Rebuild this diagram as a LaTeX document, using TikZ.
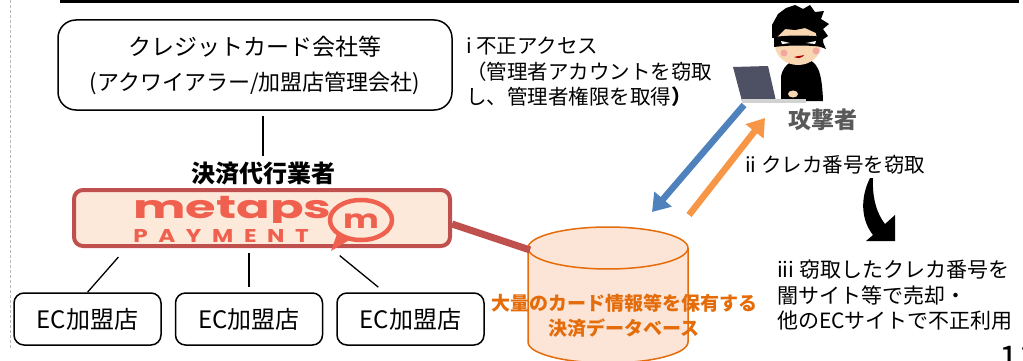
\documentclass[tikz,border=0pt]{standalone}
\usepackage{fontspec}
\setmainfont{Noto Sans CJK JP}
\newfontfamily\logofont{Poppins}
\usepackage{tikz}
\usepackage{xcolor}
\usetikzlibrary{arrows.meta, positioning, calc}

\definecolor{agentred}{HTML}{C0504D}
\definecolor{agentfill}{HTML}{FDE9D9}
\definecolor{logored}{HTML}{F0604F}
\definecolor{dborange}{HTML}{E46C0A}
\definecolor{dbfill}{HTML}{FCE4D6}
\definecolor{accessblue}{HTML}{4F81BD}
\definecolor{stealorange}{HTML}{F79646}
\definecolor{labelgray}{HTML}{595959}
\definecolor{skin}{HTML}{F9D7B3}
\definecolor{cheek}{HTML}{F4A6A0}
\definecolor{pcgray}{HTML}{4E5063}

\begin{document}
\begin{tikzpicture}[x=1pt, y=1pt,
  box/.style={draw, line width=1.5pt, rounded corners=10pt, inner sep=0pt},
  ecbox/.style={box, minimum width=147pt, minimum height=52pt, font=\fontsize{24}{24}\selectfont},
  txt/.style={font=\fontsize{20.5}{25.5}\selectfont, align=left, inner sep=0pt},
  link/.style={line width=1.3pt},
  bigarrow/.style={line width=6.5pt, -{Triangle[width=22pt,length=17pt]}}]
\useasboundingbox (0,0) rectangle (1023,-361);

% Page frame
\draw[line width=3.5pt] (60,-1.5) -- (1019,-1.5);
\draw[gray!55, line width=1pt, dash pattern=on 3pt off 2pt] (10,0) -- (10,-350);

% Card company
\node[box, rounded corners=18pt, minimum width=394pt, minimum height=90pt, align=center,
  font=\fontsize{22}{35}\selectfont] (card) at (255,-65)
  {{\fontsize{23}{23}\selectfont クレジットカード会社等}\\(アクワイアラー/加盟店管理会社)};

% Payment agent
\node[font=\bfseries\fontsize{24}{24}\selectfont] (role) at (263,-173) {決済代行業者};
\node[draw=agentred, fill=agentfill, line width=4pt, rounded corners=9pt,
  minimum width=376pt, minimum height=56pt] (agent) at (262,-218) {};
\begin{scope}
  \clip (120,-190) rectangle (330,-222);
  \node[logored, font=\logofont\bfseries\fontsize{32}{32}\selectfont, anchor=base west,
    inner sep=0pt, xscale=1.55] (logo) at (133,-218) {\raisebox{0pt}[\height][0pt]{metaps}};
\end{scope}
\node[logored, font=\logofont\bfseries\fontsize{18.5}{18.5}\selectfont, anchor=base west,
  inner sep=0pt, xscale=1.25] (logosub) at (133,-242) {\addfontfeature{LetterSpace=46}PAYMENT};
\draw[logored, line width=4.5pt] (361,-220) ellipse [x radius=31, y radius=20];
\fill[logored] (337,-234) -- (331,-251) -- (351,-239) -- cycle;
\node[logored, font=\logofont\bfseries\fontsize{26}{26}\selectfont, xscale=1.3] (logom) at (361,-221) {m};

\draw[link, shorten <=5pt, shorten >=2pt] (role.north |- card.south) -- (role.north);

% Merchants
\foreach \i/\x in {1/87.5, 2/249, 3/410.5}
  \node[ecbox] (ec\i) at (\x,-319) {EC加盟店};

\draw[link, shorten <=12pt] ($(agent.south west)!0.143!(agent.south east)$) -- (ec1.north);
\draw[link, shorten <=5pt, shorten >=5pt] (ec2.north |- agent.south) -- (ec2.north);
\draw[link, shorten <=12pt, shorten >=8pt] ($(agent.south west)!0.68!(agent.south east)$)
  -- ($(ec3.north west)!0.65!(ec3.north)$);

% Database
\fill[dbfill] (528,-248) -- (528,-342) arc[start angle=180, end angle=360, x radius=80, y radius=21]
  -- (688,-248) -- cycle;
\draw[dborange, line width=1.5pt] (528,-248) -- (528,-342)
  arc[start angle=180, end angle=360, x radius=80, y radius=21] -- (688,-248);
\filldraw[dborange, fill=dbfill, line width=1.5pt] (608,-248) ellipse [x radius=80, y radius=21];
\coordinate (db) at (530,-250);
\node[font=\bfseries\fontsize{19}{25}\selectfont, text=dborange, align=center] (dblabel) at (624,-316)
  {大量のカード情報等を保有する\\決済データベース};

\draw[agentred, line width=7pt] ([yshift=-6pt]agent.east) -- (db);

% Attacker at laptop
\fill[black] (781,-101) -- (781,-76) .. controls (784,-63) and (794,-59) .. (804,-59)
  .. controls (817,-60) and (822,-70) .. (823,-101) -- cycle;
\fill[skin] (798,-45) ellipse [x radius=23, y radius=20];
\fill[black] (772,-38) -- (772,-25) -- (778,-14) -- (786,-8) -- (795,-5) -- (803,-9) -- (810,-5)
  -- (815,-12) -- (824,-11) -- (821,-19) -- (829,-24) -- (823,-29) -- (828,-36) -- (822,-40)
  -- (826,-49) -- (818,-46) -- (816,-33) -- (805,-28) -- (795,-30) -- (785,-29) -- (776,-38) -- cycle;
\fill[black] (774,-37) .. controls (790,-35) and (808,-35) .. (823,-37) -- (823,-47)
  .. controls (808,-45) and (790,-45) .. (774,-47) -- cycle;
\fill[white] (781,-41) -- (790,-43) -- (782,-44) -- cycle;
\fill[white] (816,-41) -- (806,-43) -- (815,-44) -- cycle;
\fill[cheek] (784,-53) circle (3.5);
\fill[cheek] (816,-51) circle (3.5);
\fill[red!70!black] (794,-57) .. controls (798,-59) and (802,-58) .. (804,-55)
  .. controls (801,-56) and (797,-56) .. cycle;
\fill[pcgray] (733,-67) -- (768,-66) -- (776,-101) -- (742,-101) -- cycle;
\fill[gray!35] (742,-99) rectangle (806,-103);
\fill[skin] (793,-94) ellipse [x radius=5, y radius=3.5];
\node[font=\bfseries\fontsize{23}{23}\selectfont, text=labelgray] (attacker) at (823,-120) {攻撃者};

% Access and theft
\coordinate (hk-out) at (744,-105);
\coordinate (db-top) at (652,-212);
\coordinate (db-out) at (689,-215);
\coordinate (hk-in) at (765,-118);
\draw[bigarrow, accessblue] (hk-out) -- (db-top);
\draw[bigarrow, stealorange] (db-out) -- (hk-in);

% Steps
\node[txt, anchor=north west] (step1) at (466,-37)
  {i 不正アクセス\\（管理者アカウントを窃取\\し、管理者権限を取得{\bfseries ）}};
\node[txt, anchor=west] (step2) at (745,-165) {ii クレカ番号を窃取};
\node[txt, font=\fontsize{21}{25.5}\selectfont, anchor=north west] (step3) at (777,-260)
  {iii 窃取したクレカ番号を\\闇サイト等で売却・\\他のECサイトで不正利用};

% Resale
\fill (870,-178) .. controls (860,-198) and (861,-220) .. (873,-235) -- (866,-241) -- (895,-241)
  -- (895,-215) -- (885,-224) .. controls (877,-214) and (872,-198) .. (873,-178) -- cycle;

% Page number
\node[font=\fontsize{34}{34}\selectfont, anchor=base west, inner sep=0pt] (page) at (999,-370) {11};
\end{tikzpicture}
\end{document}
